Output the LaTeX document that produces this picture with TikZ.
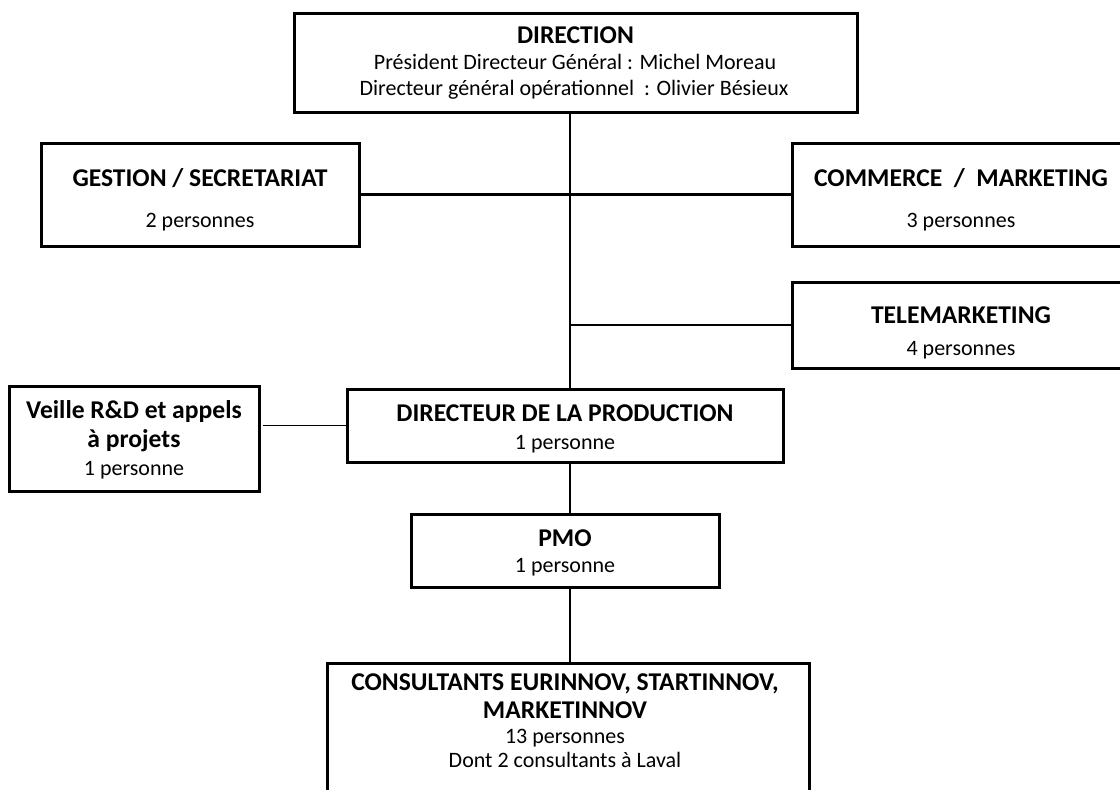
\documentclass[tikz,border=0pt]{standalone}
\usepackage{fontspec}
\setmainfont{Carlito}
\tikzset{
  box/.style={draw=black, line width=3pt, rectangle, inner sep=0pt, outer sep=0pt},
  hd/.style={anchor=base, inner sep=0pt, font=\bfseries\fontsize{25.6}{30}\selectfont},
  rg/.style={anchor=base, inner sep=0pt, font=\fontsize{22}{26}\selectfont},
  link/.style={draw=black, line width=2.5pt},
  thinlink/.style={draw=black, line width=1.8pt}
}
\begin{document}
\begin{tikzpicture}[x=1pt, y=-1pt]
\clip (0,0) rectangle (1120,790);
\fill[white] (0,0) rectangle (1120,790);

% boxes
\node[box, minimum width=563pt, minimum height=99pt] (dir) at (575.5,62.5) {};
\node[box, minimum width=318pt, minimum height=103pt] (ges) at (200,194.5) {};
\node[box, minimum width=338pt, minimum height=103pt] (com) at (961,194.5) {};
\node[box, minimum width=338pt, minimum height=86pt] (tel) at (961,325) {};
\node[box, minimum width=250pt, minimum height=105pt] (vei) at (134,438.5) {};
\node[box, minimum width=436pt, minimum height=73pt] (dlp) at (565,425.5) {};
\node[box, minimum width=308pt, minimum height=73pt] (pmo) at (565,550.5) {};
\node[box, minimum width=482pt, minimum height=157pt] (con) at (568,741.5) {};

\coordinate (trunk) at (570,0);

% connectors
\draw[link] (dir.south -| trunk) -- (dlp.north -| trunk);
\draw[link] (ges.east) -- (com.west);
\draw[link] (tel.west -| trunk) -- (tel.west);
\draw[thinlink, shorten <=4pt] (dlp.west -| vei.east) -- (dlp.west);
\draw[link] (dlp.south -| trunk) -- (pmo.north -| trunk);
\draw[link] (pmo.south -| trunk) -- (con.north -| trunk);

% texts
\node[hd] (t1) at (575.5,43) {DIRECTION};
\node[rg] (t2) at (575,69) {Président Directeur Général : Michel Moreau};
\node[rg] (t3) at (574,95) {Directeur général opérationnel\ \ : Olivier Bésieux};

\node[hd] (t4) at (200,186) {GESTION / SECRETARIAT};
\node[rg] (t5) at (200,227) {2 personnes};

\node[hd] (t6) at (961,186) {COMMERCE\ \ /\ \ MARKETING};
\node[rg] (t7) at (961,227) {3 personnes};

\node[hd] (t8) at (961,323) {TELEMARKETING};
\node[rg] (t9) at (961,355) {4 personnes};

\node[hd] (t10) at (134,418) {Veille R\&D et appels};
\node[hd] (t11) at (134,447) {à projets};
\node[rg] (t12) at (134,475) {1 personne};

\node[hd] (t13) at (565,421) {DIRECTEUR DE LA PRODUCTION};
\node[rg] (t14) at (565,449) {1 personne};

\node[hd] (t15) at (565,546) {PMO};
\node[rg] (t16) at (565,572) {1 personne};

\node[hd] (t17) at (565,690) {CONSULTANTS EURINNOV, STARTINNOV,};
\node[hd] (t18) at (565,718) {MARKETINNOV};
\node[rg] (t19) at (565,743) {13 personnes};
\node[rg] (t20) at (565,767) {Dont 2 consultants à Laval};
\end{tikzpicture}
\end{document}
